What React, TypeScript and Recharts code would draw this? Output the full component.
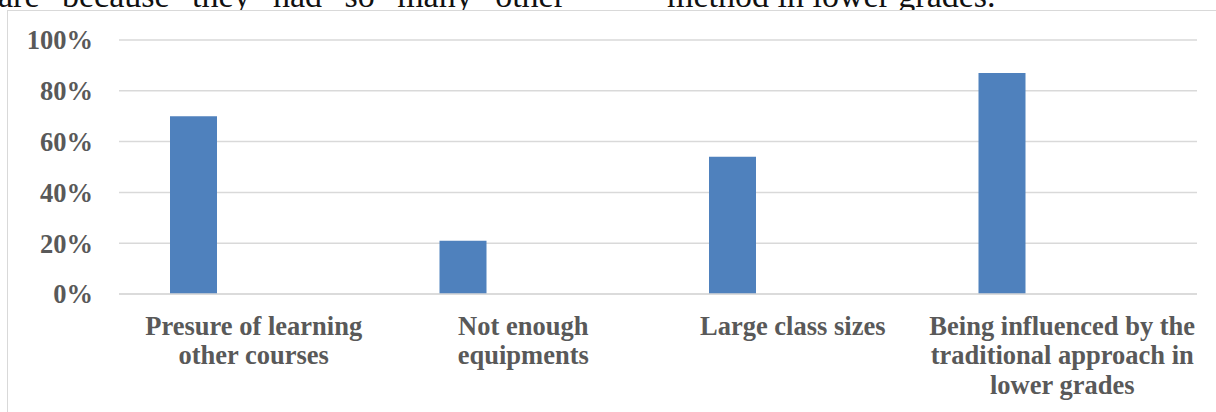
import React from "react";
import { BarChart, Bar, CartesianGrid, XAxis, YAxis } from "recharts";

// Reasons given, one per category (line breaks mark the label wrapping)
const categories = [
  "Presure of learning\nother courses",
  "Not enough\nequipments",
  "Large class sizes",
  "Being influenced by the\ntraditional approach in\nlower grades",
];

// Share of respondents, in percent
const responseShares = [70, 21, 54, 87];

// Second series of the original chart has no values
const emptySeries = [null, null, null, null];

const percentTicks = [0, 20, 40, 60, 80, 100];

const data = categories.map((name, i) => ({
  name,
  share: responseShares[i],
  other: emptySeries[i],
}));

const SERIF = "'Liberation Serif', 'Times New Roman', serif";
const LABEL_GRAY = "#595959";
const GRID_GRAY = "#d9d9d9";

type TickProps = {
  x?: number;
  y?: number;
  payload?: { value: string };
};

function CategoryTick({ x = 0, y = 0, payload }: TickProps) {
  const lines = String(payload?.value ?? "").split("\n");
  return (
    <text
      x={x}
      y={y}
      textAnchor="middle"
      fill={LABEL_GRAY}
      fontFamily={SERIF}
      fontWeight="bold"
      fontSize={26.5}
    >
      {lines.map((line, i) => (
        <tspan key={i} x={x} dy={i === 0 ? 32.5 : 29.7}>
          {line}
        </tspan>
      ))}
    </text>
  );
}

export default function App() {
  return (
    <div
      style={{
        position: "absolute",
        top: 0,
        left: 0,
        width: 1216,
        height: 412,
        overflow: "hidden",
        background: "#fff",
      }}
    >
      {/* surrounding body text, cut off by the chart frame */}
      <div
        style={{
          position: "absolute",
          left: -2,
          top: -21.2,
          width: 567,
          fontFamily: SERIF,
          fontSize: 34,
          lineHeight: "34px",
          color: "#111",
          textAlign: "justify",
          textAlignLast: "justify",
          whiteSpace: "nowrap",
        }}
      >
        are because they had so many other
      </div>
      <div
        style={{
          position: "absolute",
          left: 667,
          top: -21.2,
          fontFamily: SERIF,
          fontSize: 34,
          lineHeight: "34px",
          color: "#111",
          whiteSpace: "nowrap",
        }}
      >
        method in lower grades.
      </div>

      {/* chart frame */}
      <div
        style={{
          position: "absolute",
          left: 7,
          top: 10,
          width: 1300,
          height: 500,
          background: "#fff",
          border: `1px solid ${GRID_GRAY}`,
          boxSizing: "border-box",
        }}
      />

      <div style={{ position: "absolute", left: 0, top: 0 }}>
        <BarChart
          width={1216}
          height={412}
          data={data}
          margin={{ top: 40, right: 19, left: 0, bottom: 0 }}
          barSize={47}
          barGap={73}
        >
          <CartesianGrid
            vertical={false}
            stroke={GRID_GRAY}
            strokeWidth={1.5}
          />
          <XAxis
            dataKey="name"
            height={118}
            interval={0}
            tickLine={false}
            axisLine={{ stroke: GRID_GRAY, strokeWidth: 1.5 }}
            tick={<CategoryTick />}
          />
          <YAxis
            width={119}
            domain={[0, 100]}
            ticks={percentTicks}
            interval={0}
            axisLine={false}
            tickLine={false}
            tickMargin={20}
            tickFormatter={(v: number) => `${v}%`}
            tick={{
              fill: LABEL_GRAY,
              fontFamily: SERIF,
              fontWeight: "bold",
              fontSize: 26.5,
            }}
          />
          <Bar dataKey="share" fill="#4f81bd" isAnimationActive={false} />
          <Bar dataKey="other" fill="#c0504d" isAnimationActive={false} />
        </BarChart>
      </div>
    </div>
  );
}
